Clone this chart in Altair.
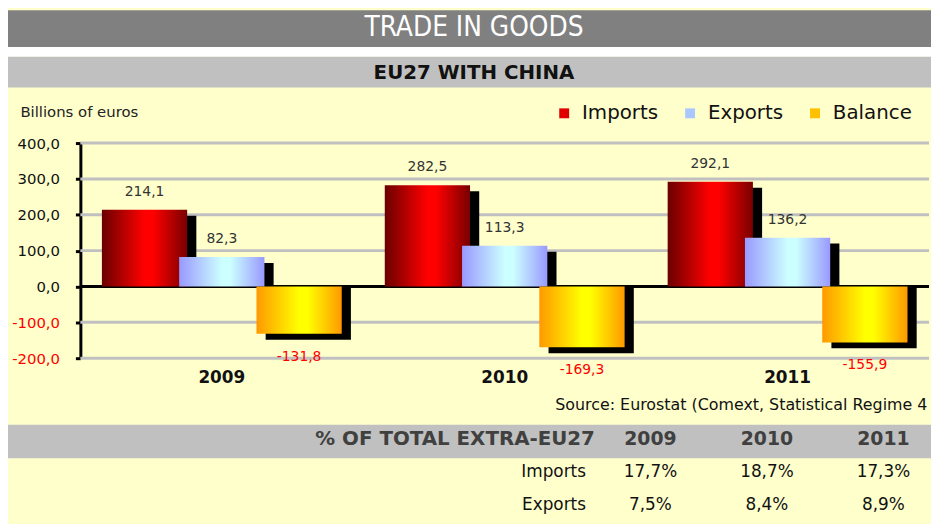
import altair as alt
import pandas as pd

# ---- data ----
years = ["2009", "2010", "2011"]
series = ["Imports", "Exports", "Balance"]
imports = [214.1, 282.5, 292.1]
exports = [82.3, 113.3, 136.2]
balance = [-131.8, -169.3, -155.9]
share_imports = [17.7, 18.7, 17.3]
share_exports = [7.5, 8.4, 8.9]
y_ticks = [-200, -100, 0, 100, 200, 300, 400]
table_rows = ["hdr", "Imports", "Exports"]

rows = []
for i, yr in enumerate(years):
    for s, vals in zip(series, [imports, exports, balance]):
        rows.append({"year": yr, "series": s, "value": vals[i]})
df = pd.DataFrame(rows)

share_rows = []
for i, yr in enumerate(years):
    share_rows.append({"year": yr, "row": "Imports", "v": share_imports[i]})
    share_rows.append({"year": yr, "row": "Exports", "v": share_exports[i]})
df_share = pd.DataFrame(share_rows)
df_hdr = pd.DataFrame({"year": years, "row": ["hdr"] * len(years)})
df_rowlab = pd.DataFrame({"row": ["Imports", "Exports"]})
df_grid = pd.DataFrame({"value": y_ticks})
one = pd.DataFrame({"k": [0]})

fmt = "replace(replace(format(datum.value, '.1f'), '.', ','), '\u2212', '-')"
FONT = "DejaVu Sans"
TITLE_FONT = "'DejaVu Sans Condensed', 'Liberation Sans Narrow', 'Liberation Sans', sans-serif"

def grad(c_edge_l, c_mid, c_edge_r):
    return alt.Gradient(
        gradient="linear", x1=0, y1=0, x2=1, y2=0,
        stops=[alt.GradientStop(offset=0, color=c_edge_l),
               alt.GradientStop(offset=0.5, color=c_mid),
               alt.GradientStop(offset=0.6, color=c_mid),
               alt.GradientStop(offset=1, color=c_edge_r)])

gradients = {
    "Imports": grad("#6a0000", "#ff0000", "#780000"),
    "Exports": grad("#9999ff", "#ccffff", "#9999ff"),
    "Balance": grad("#ff9900", "#ffff00", "#ff9900"),
}

x_enc = alt.X("year:N", title=None,
              scale=alt.Scale(type="band", domain=years, paddingInner=0, paddingOuter=0),
              axis=alt.Axis(domain=False, ticks=False, grid=False, labelAngle=0,
                            labelFont=FONT, labelFontWeight="bold", labelFontSize=17,
                            labelColor="#111", labelPadding=12))
xo_enc = alt.XOffset("series:N",
                     scale=alt.Scale(type="band", domain=series, paddingInner=0,
                                     paddingOuter=0.33))
# shadow: same bands, shifted right a few pixels via band alignment
xo_shadow = alt.XOffset("series:N",
                        scale=alt.Scale(type="band", domain=series, paddingInner=0,
                                        paddingOuter=0.33, align=0.68))
y_axis = alt.Axis(values=y_ticks, labelExpr=fmt, labelOverlap=False, tickCount=7,
                  labelColor={"condition": {"test": "datum.value < 0", "value": "red"},
                              "value": "#111"},
                  labelFont=FONT, labelFontSize=15, labelPadding=16,
                  tickSize=5, tickWidth=3, tickColor="black",
                  domainColor="black", domainWidth=3, grid=False,
                  title="Billions of euros", titleAngle=0, titleX=-61, titleY=-32,
                  titleAlign="left", titleBaseline="middle", titleFont=FONT,
                  titleFontSize=15, titleFontWeight="normal", titleColor="#222")
y_enc = alt.Y("value:Q", stack=None,
              scale=alt.Scale(domain=[-200, 400], nice=False, zero=False),
              axis=y_axis)

base = alt.Chart(df).encode(x=x_enc, xOffset=xo_enc, y=y_enc)

# ---- decorations (banners) ----
deco = alt.Chart(one)
dark = deco.mark_rect(color="#808080").encode(
    x=alt.value(-73), x2=alt.value(858), y=alt.value(-134), y2=alt.value(-97))
gap = deco.mark_rect(color="white").encode(
    x=alt.value(-73), x2=alt.value(858), y=alt.value(-97), y2=alt.value(-87))
light = deco.mark_rect(color="#c0c0c0").encode(
    x=alt.value(-73), x2=alt.value(858), y=alt.value(-87), y2=alt.value(-56))
tblband = deco.mark_rect(color="#c0c0c0").encode(
    x=alt.value(-73), x2=alt.value(858), y=alt.value(284), y2=alt.value(318))
title = deco.mark_text(text="TRADE IN GOODS", font=TITLE_FONT, fontSize=28,
                       color="white", align="center", baseline="middle").encode(
    x=alt.value(397), y=alt.value(-116))
subtitle = deco.mark_text(text="EU27 WITH CHINA", font=FONT, fontSize=20, fontWeight="bold",
                          color="#111", align="center", baseline="middle").encode(
    x=alt.value(397), y=alt.value(-71))
source = deco.mark_text(text="Source: Eurostat (Comext, Statistical Regime 4", font=FONT,
                        fontSize=16, color="#111", align="left", baseline="middle").encode(
    x=alt.value(479), y=alt.value(264))

# ---- gridlines (zero line in black), bars ----
grid = alt.Chart(df_grid).mark_rule(strokeWidth=3).encode(
    y=y_enc,
    color=alt.condition("datum.value == 0", alt.value("black"), alt.value("#c0c0c0")))
shadow = base.mark_bar(color="black", width=86, yOffset=6, y2Offset=6).encode(
    xOffset=xo_shadow)
legend_layer = base.mark_bar(opacity=0, width=86).encode(
    color=alt.Color("series:N",
                    scale=alt.Scale(domain=series, range=["#e00000", "#aac8ff", "#ffc000"]),
                    legend=alt.Legend(orient="none", direction="horizontal", legendX=478,
                                      legendY=-40, title=None, symbolType="square",
                                      symbolSize=100, symbolOpacity=1, symbolStrokeWidth=0,
                                      labelFont=FONT, labelFontSize=20, labelColor="#111",
                                      labelOffset=8, columnPadding=22)))
bar_layers = [
    base.transform_filter(alt.datum.series == s).mark_bar(width=86, color=gradients[s])
    for s in series
]
pos_lab = base.transform_filter("datum.value > 0").transform_calculate(lab=fmt).mark_text(
    dy=-18, font=FONT, fontSize=14, color="#333").encode(text="lab:N")
neg_lab = base.transform_filter("datum.value < 0").transform_calculate(lab=fmt).mark_text(
    dy=23, font=FONT, fontSize=14, color="red").encode(text="lab:N")

main = alt.layer(dark, gap, light, tblband, title, subtitle, grid, shadow, legend_layer,
                 *bar_layers, pos_lab, neg_lab, source).resolve_scale(
    xOffset="independent")

# ---- table ----
tx = alt.X("year:N", scale=alt.Scale(type="point", domain=years, range=[575, 810], padding=0),
           axis=None)
ty = alt.Y("row:N", scale=alt.Scale(type="point", domain=table_rows, range=[299, 365], padding=0),
           axis=None)
t_hdr = alt.Chart(df_hdr).mark_text(font=FONT, fontSize=19, fontWeight="bold",
                                    color="#404040").encode(x=tx, y=ty, text="year:N")
t_vals = alt.Chart(df_share).transform_calculate(
    lab="replace(format(datum.v, '.1f'), '.', ',') + '%'").mark_text(
    font=FONT, fontSize=17, color="#111").encode(x=tx, y=ty, text="lab:N")
t_rowlab = alt.Chart(df_rowlab).mark_text(font=FONT, fontSize=17, color="#111",
                                          align="right").encode(
    x=alt.value(510), y=ty, text="row:N")
t_hdrlab = alt.Chart(df_hdr.head(1)).mark_text(text="% OF TOTAL EXTRA-EU27", font=FONT,
                                               fontSize=20, fontWeight="bold",
                                               color="#404040", align="right").encode(
    x=alt.value(519), y=ty)
table = alt.layer(t_hdr, t_vals, t_rowlab, t_hdrlab)

chart = alt.layer(main, table).resolve_scale(x="independent", y="independent").properties(
    width=856, height=217,
    padding={"left": 73, "top": 134, "right": 2, "bottom": 165},
    autosize=alt.AutoSizeParams(type="none"),
    background="#ffffcc",
).configure_view(stroke=None)

chart.save("out.html", embed_options={"renderer": "svg", "actions": False})
